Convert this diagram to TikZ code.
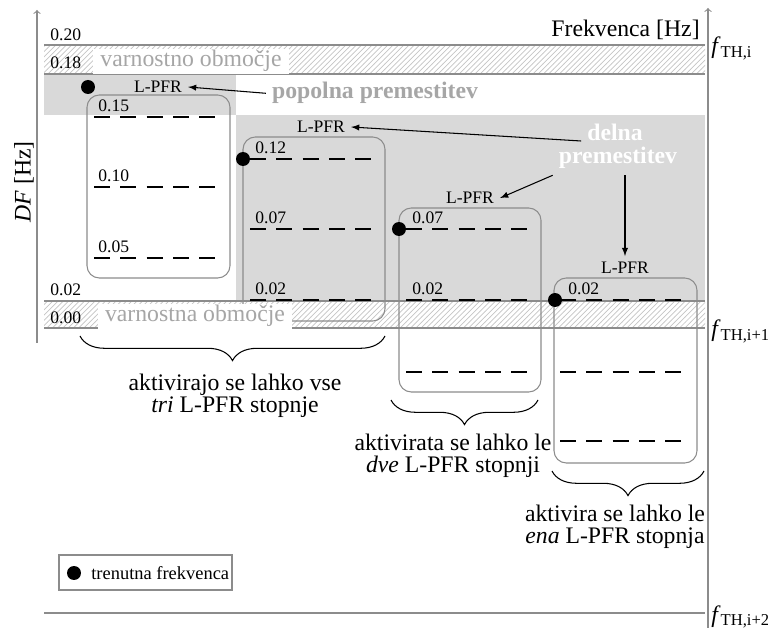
\documentclass[tikz,border=0pt]{standalone}
\usepackage{fontspec}
\setmainfont{Liberation Serif}
\usepackage{tikz}
\usetikzlibrary{arrows}
\usetikzlibrary{patterns}
\usetikzlibrary{decorations.pathreplacing}

\definecolor{bandgray}{HTML}{D9D9D9}
\definecolor{linegray}{HTML}{8C8C8C}
\definecolor{textgray}{HTML}{A6A6A6}
\definecolor{hatchgray}{HTML}{C4C4C4}

\tikzset{
	bigtext/.style={font=\fontsize{13.5}{12.5}\selectfont},
	smalltext/.style={font=\fontsize{10}{12}\selectfont},
	stepline/.style={line width=1.5pt, dash pattern=on 9pt off 6pt},
	stagebox/.style={draw=linegray, line width=0.6pt, rounded corners=7pt},
	fdot/.style={circle, fill=black, inner sep=0pt, minimum size=0.28cm},
	thickline/.style={draw=linegray, line width=1.2pt},
	thinline/.style={draw=linegray, line width=0.6pt},
	hatch/.style={pattern=north east lines, pattern color=hatchgray},
	ticklbl/.style={smalltext, anchor=base west, inner sep=0pt},
	stagelbl/.style={smalltext, anchor=base west, inner sep=0pt},
	safety/.style={bigtext, text=textgray, fill=white, anchor=base, inner xsep=4pt, inner ysep=1pt},
	movetext/.style={font=\fontsize{13.5}{12.5}\selectfont\bfseries, anchor=base},
	pointer/.style={-latex, line width=0.6pt},
	bracestyle/.style={decorate, decoration={brace, amplitude=14pt}, line width=0.6pt},
	threshold/.style={bigtext, anchor=base west, inner sep=0pt}
}

\begin{document}
\begin{tikzpicture}[x=0.02cm, y=-0.02cm]
	\useasboundingbox (0,0) rectangle (768,628);
	% Bands, lines and axes:
	\fill[bandgray] (44,75) rectangle (236,115);
	\fill[bandgray] (236,115) rectangle (705,301);
	\fill[hatch] (44,45) rectangle (705,74);
	\fill[hatch] (44,301) rectangle (705,328);
	\draw[thickline] (44,45) -- (705,45);
	\draw[thinline] (44,74) -- (705,74);
	\draw[thinline] (44,301) -- (705,301);
	\draw[thickline] (44,328) -- (705,328);
	\draw[thickline] (44,613) -- (705,613);
	\draw[thinline, ->] (37,343) -- (37,10);
	\draw[thinline, ->] (708,628) -- (708,8);
	\node[bigtext, anchor=base east, inner sep=0pt] (FR) at (700,37) {Frekvenca [Hz]};
	\node[bigtext, rotate=90] (DF) at (24,182) {\textit{DF} [Hz]};
	\node[threshold] (TH1) at (711,54) {\textit{f}\textsubscript{TH,i}};
	\node[threshold] (TH2) at (711,337) {\textit{f}\textsubscript{TH,i+1}};
	\node[threshold] (TH3) at (711,622) {\textit{f}\textsubscript{TH,i+2}};
	\node[ticklbl] (T20) at (50,41) {0.20};
	\node[ticklbl] (T18) at (50,69) {0.18};
	\node[ticklbl] (T02) at (50,296) {0.02};
	\node[ticklbl] (T00) at (50,324) {0.00};
	% L-PFR boxes and stages:
	\draw[stagebox] (87,95) rectangle (230,278);
	\draw[stagebox] (243,137) rectangle (385,321);
	\draw[stagebox] (399,208) rectangle (541,392);
	\draw[stagebox] (554,278) rectangle (697,463);
	\draw[stepline] (94,117) -- (220,117);
	\draw[stepline] (94,187) -- (220,187);
	\draw[stepline] (94,258) -- (220,258);
	\draw[stepline] (250,159) -- (376,159);
	\draw[stepline] (250,229) -- (376,229);
	\draw[stepline] (250,300) -- (376,300);
	\draw[stepline] (406,229) -- (531,229);
	\draw[stepline] (406,300) -- (531,300);
	\draw[stepline] (406,372) -- (531,372);
	\draw[stepline] (560,300) -- (688,300);
	\draw[stepline] (560,372) -- (688,372);
	\draw[stepline] (560,441) -- (688,441);
	\node[stagelbl] (A15) at (98,112) {0.15};
	\node[stagelbl] (A10) at (98,182) {0.10};
	\node[stagelbl] (A05) at (98,253) {0.05};
	\node[stagelbl] (B12) at (255,154) {0.12};
	\node[stagelbl] (B07) at (255,224) {0.07};
	\node[stagelbl] (B02) at (255,295) {0.02};
	\node[stagelbl] (C07) at (412,224) {0.07};
	\node[stagelbl] (C02) at (412,295) {0.02};
	\node[stagelbl] (D02) at (568,295) {0.02};
	\node[smalltext] (LA) at (158,87) {L-PFR};
	\node[smalltext] (LB) at (321,127) {L-PFR};
	\node[smalltext] (LC) at (470,198) {L-PFR};
	\node[smalltext] (LD) at (625,268) {L-PFR};
	\node[safety] (S1) at (191,67) {varnostno območje};
	\node[safety] (S2) at (195,322) {varnostna območje};
	\node[fdot] (DA) at (88,87) {};
	\node[fdot] (DB) at (243,159) {};
	\node[fdot] (DC) at (399,229) {};
	\node[fdot] (DD) at (555,300) {};
	% Shifts:
	\node[movetext, text=textgray] (PP) at (375,99) {popolna premestitev};
	\node[movetext, text=white] (DP1) at (615,141) {delna};
	\node[movetext, text=white] (DP2) at (618,164) {premestitev};
	\draw[pointer] (PP.west) -- (LA.east);
	\draw[pointer] (DP1.base west) -- (LB.east);
	\draw[pointer] (DP2.south west) -- (LC.east);
	\draw[pointer] (DP2.south -| LD.north) -- (LD.north);
	% Braces:
	\draw[bracestyle] (385,336) -- (80,336);
	\draw[bracestyle] (538,400) -- (391,400);
	\draw[bracestyle] (704,471) -- (552,471);
	\node[bigtext, align=center] (B1) at (235,396) {aktivirajo se lahko vse\\\textit{tri} L-PFR stopnje};
	\node[bigtext, align=center] (B2) at (453,456) {aktivirata se lahko le\\\textit{dve} L-PFR stopnji};
	\node[bigtext, align=center] (B3) at (615,527) {aktivira se lahko le\\\textit{ena} L-PFR stopnja};
	% Legend:
	\draw[thinline] (59,555) rectangle (232,590);
	\node[fdot] (LGdot) at (74,573) {};
	\node[font=\fontsize{10.5}{12}\selectfont, anchor=west, inner sep=0pt] (LGtxt) at (91,573) {trenutna frekvenca};
\end{tikzpicture}
\end{document}
